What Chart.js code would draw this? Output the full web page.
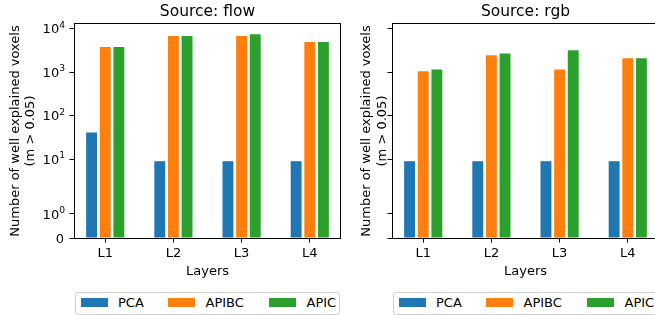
<!DOCTYPE html>
<html>
<head>
<meta charset="utf-8">
<script src="https://cdn.jsdelivr.net/npm/chart.js@4.4.1/dist/chart.umd.min.js"></script>
<style>
  html, body { margin:0; padding:0; background:#fff; overflow:hidden; width:655px; height:315px; }
  canvas { position:absolute; top:0; }
  #c1 { left:0; }
  #c2 { left:345px; }
  .legend { position:absolute; top:292px; height:23px; width:265px; border:1px solid #d0d0d0; border-radius:3px; box-sizing:border-box; background:#fff; font-family:'DejaVu Sans'; font-size:13px; color:#000; }
  .legend .h { position:absolute; top:5px; width:27px; height:9px; }
  .legend .t { position:absolute; top:2px; line-height:16px; white-space:nowrap; }
</style>
</head>
<body>
<canvas id="c1" width="350" height="290"></canvas>
<canvas id="c2" width="320" height="290"></canvas>
<div class="legend" id="lg1" style="left:75px"></div>
<div class="legend" id="lg2" style="left:393px"></div>
<script>
// ---- data ----
const categories = ['L1', 'L2', 'L3', 'L4'];
const seriesNames = ['PCA', 'APIBC', 'APIC'];
const seriesColors = ['#1f77b4', '#ff7f0e', '#2ca02c'];
const flowPCA = [41, 9, 9, 9];
const flowAPIBC = [3800, 6800, 6800, 4900];
const flowAPIC = [3800, 6800, 7450, 4900];
const rgbPCA = [9, 9, 9, 9];
const rgbAPIBC = [1050, 2430, 1150, 2080];
const rgbAPIC = [1150, 2700, 3180, 2080];
const yTickValues = [0, 1, 10, 100, 1000, 10000];
const yTickBases = ['0', '10', '10', '10', '10', '10'];
const yTickExponents = ['', '0', '1', '2', '3', '4'];

// ---- symlog scale (linthresh 2, linscale 1, base 10) ----
const LT = 2, ADJ = 1 / (1 - 1 / 10);
function T(x) { const a = Math.abs(x), s = Math.sign(x); return a <= LT ? x * ADJ : s * LT * (ADJ + Math.log10(a / LT)); }
function Tinv(t) { const a = Math.abs(t), s = Math.sign(t); return a <= LT * ADJ ? t / ADJ : s * LT * Math.pow(10, a / LT - ADJ); }

class SymlogScale extends Chart.LinearScale {
  buildTicks() { return yTickValues.map(v => ({ value: v })); }
  getPixelForValue(v) {
    const t0 = T(this.min), t1 = T(this.max);
    return this.getPixelForDecimal((T(v) - t0) / (t1 - t0));
  }
  getValueForPixel(p) {
    const t0 = T(this.min), t1 = T(this.max);
    return Tinv(t0 + this.getDecimalForPixel(p) * (t1 - t0));
  }
}
SymlogScale.id = 'symlog';
SymlogScale.defaults = Object.assign({}, Chart.LinearScale.defaults);
Chart.register(SymlogScale);

const allVals = [].concat(flowPCA, flowAPIBC, flowAPIC, rgbPCA, rgbAPIBC, rgbAPIC);
const yMax = Tinv(1.05 * Math.max(...allVals.map(T)));
const xPad = (categories.length - 1 + 0.56) * 0.05;
const xMin = -0.28 - xPad, xMax = categories.length - 1 + 0.28 + xPad;

Chart.defaults.font.family = 'DejaVu Sans';
Chart.defaults.font.size = 13;
Chart.defaults.color = '#000';

const frame = {
  id: 'frame',
  afterDraw(chart) {
    const { ctx, chartArea: a } = chart;
    const opts = chart.options.plugins.frame;
    ctx.save();
    ctx.strokeStyle = '#000';
    ctx.lineWidth = 1;
    ctx.strokeRect(Math.round(a.left) + 0.5, Math.round(a.top) - 0.5, Math.round(a.right - a.left) - 1, Math.round(a.bottom - a.top) + 1);
    ctx.fillStyle = '#000';
    ctx.font = '15.5px "DejaVu Sans"';
    ctx.textAlign = 'center';
    ctx.textBaseline = 'middle';
    ctx.fillText(opts.title, (a.left + a.right) / 2, 12);
    if (opts.yLabels) {
      // y tick labels drawn as base + superscript exponent (mathtext style)
      const ys = chart.scales.y;
      const xr = a.left - 9;
      ctx.textBaseline = 'alphabetic';
      ctx.textAlign = 'right';
      yTickValues.forEach((v, i) => {
        const py = ys.getPixelForValue(v);
        const exp = yTickExponents[i];
        let right = xr;
        if (exp) {
          ctx.font = '9.2px "DejaVu Sans"';
          const w = ctx.measureText(exp).width;
          ctx.fillText(exp, right, py - 1);
          right -= w;
        } else {
          right -= 1;
        }
        ctx.font = '13px "DejaVu Sans"';
        ctx.fillText(yTickBases[i], right, py + 4.8);
      });
    }
    ctx.restore();
  }
};

function makeChart(id, title, pca, apibc, apic, showYLabels, yWidth, padRight, yTitlePad) {
  const sets = [pca, apibc, apic];
  new Chart(document.getElementById(id), {
    type: 'bar',
    data: {
      datasets: sets.map((vals, k) => ({
        label: seriesNames[k],
        data: categories.map((c, i) => ({ x: i, y: vals[i] })),
        backgroundColor: seriesColors[k],
        borderWidth: 0,
        categoryPercentage: 0.6,
        barPercentage: 0.8
      }))
    },
    options: {
      responsive: false,
      animation: false,
      devicePixelRatio: 1,
      layout: { padding: { left: 0, top: 24, right: padRight, bottom: 0 } },
      plugins: { legend: { display: false }, tooltip: { enabled: false }, frame: { title, yLabels: showYLabels } },
      scales: {
        x: {
          type: 'linear', min: xMin, max: xMax, offset: false,
          afterBuildTicks: s => { s.ticks = categories.map((c, i) => ({ value: i })); },
          afterFit: s => { s.height = 52; },
          ticks: { callback: v => categories[v] ?? '', autoSkip: false, maxRotation: 0, padding: 3 },
          grid: { drawOnChartArea: false, drawTicks: true, tickLength: 4.5, tickColor: '#000', tickWidth: 1, offset: false },
          border: { display: false },
          title: { display: true, text: 'Layers', padding: { top: 0, bottom: 11 }, font: { size: 13 } }
        },
        y: {
          type: 'symlog', min: 0, max: yMax,
          afterFit: s => { s.width = yWidth; },
          ticks: { callback: () => '', autoSkip: false, padding: 4 },
          grid: { drawOnChartArea: false, drawTicks: true, tickLength: 4.5, tickColor: '#000', tickWidth: 1 },
          border: { display: false },
          title: { display: true, text: ['Number of well explained voxels', '(m > 0.05)'], padding: { top: yTitlePad, bottom: 0 }, font: { size: 13, lineHeight: 1.2 } }
        }
      }
    },
    plugins: [frame]
  });
}

makeChart('c1', 'Source: flow', flowPCA, flowAPIBC, flowAPIC, true, 74, 9, 7.6);
makeChart('c2', 'Source: rgb', rgbPCA, rgbAPIBC, rgbAPIC, false, 47, 6, 13.9);

// legends
const hLeft = [5, 92, 193], tLeft = [42, 129.5, 230.5];
['lg1', 'lg2'].forEach(id => {
  const el = document.getElementById(id);
  seriesNames.forEach((n, k) => {
    const h = document.createElement('div'); h.className = 'h'; h.style.left = hLeft[k] + 'px'; h.style.background = seriesColors[k]; el.appendChild(h);
    const t = document.createElement('div'); t.className = 't'; t.style.left = tLeft[k] + 'px'; t.textContent = n; el.appendChild(t);
  });
});
</script>
</body>
</html>
